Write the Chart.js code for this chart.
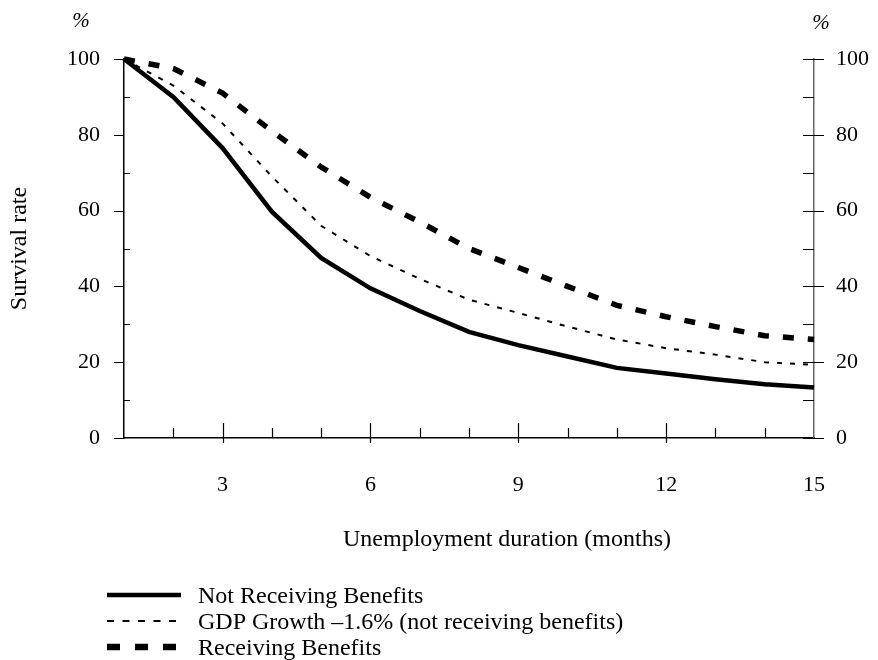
<!DOCTYPE html>
<html>
<head>
<meta charset="utf-8">
<script src="https://cdn.jsdelivr.net/npm/chart.js@4.4.1/dist/chart.umd.min.js"></script>
<style>
  html, body { margin: 0; padding: 0; background: #fff; }
  #wrap { width: 878px; height: 660px; }
</style>
</head>
<body>
<div id="wrap"><canvas id="survChart" width="878" height="660"></canvas></div>
<script>
  // data
  const months = [1, 2, 3, 4, 5, 6, 7, 8, 9, 10, 11, 12, 13, 14, 15];
  const notReceiving = [100, 90, 76.5, 59.7, 47.5, 39.5, 33.5, 28, 24.5, 21.5, 18.5, 17, 15.5, 14.2, 13.3];
  const gdpDrop = [100, 93, 83, 69, 56, 48, 42, 36.5, 33, 29.4, 26, 23.7, 22, 20, 19.3];
  const receiving = [100, 97.5, 91, 81, 71.5, 63.5, 57, 50, 45, 40, 35, 32, 29.4, 27, 26];
  const seriesNames = ['Not Receiving Benefits', 'GDP Growth \u20131.6% (not receiving benefits)', 'Receiving Benefits'];
  const xTickLabels = [3, 6, 9, 12, 15];
  const yTickLabels = [0, 20, 40, 60, 80, 100];

  const FONT = "'Liberation Serif', 'DejaVu Serif', serif";

  function pts(vals) {
    return vals.map((v, i) => ({ x: months[i], y: v }));
  }

  const data = {
    datasets: [
      { label: seriesNames[0], data: pts(notReceiving), borderColor: '#000', borderWidth: 4.5, borderDash: [] },
      { label: seriesNames[1], data: pts(gdpDrop), borderColor: '#000', borderWidth: 2, borderDash: [5, 8] },
      { label: seriesNames[2], data: pts(receiving), borderColor: '#000', borderWidth: 5.5, borderDash: [11, 14] }
    ]
  };
  data.datasets.forEach(d => {
    d.pointRadius = 0;
    d.tension = 0;
    d.fill = false;
    d.clip = false;
    d.borderCapStyle = 'butt';
  });

  // tick marks, titles and legend
  const extras = {
    id: 'extras',
    afterDraw(chart) {
      const ctx = chart.ctx;
      const xs = chart.scales.x, ys = chart.scales.y;
      const area = chart.chartArea;
      ctx.save();
      ctx.strokeStyle = '#000';
      ctx.lineWidth = 1.2;
      ctx.beginPath();
      for (let m = 2; m <= 14; m++) {
        const px = Math.round(xs.getPixelForValue(m)) + 0.5;
        if (m % 3 === 0) {
          ctx.moveTo(px, area.bottom - 15); ctx.lineTo(px, area.bottom + 5);
        } else {
          ctx.moveTo(px, area.bottom - 10); ctx.lineTo(px, area.bottom);
        }
      }
      for (let v = 0; v <= 100; v += 10) {
        const py = Math.round(ys.getPixelForValue(v)) + 0.5;
        if (v % 20 === 0) {
          ctx.moveTo(area.left - 10, py); ctx.lineTo(area.left, py);
          ctx.moveTo(area.right - 11, py); ctx.lineTo(area.right + 10, py);
        } else {
          ctx.moveTo(area.left, py); ctx.lineTo(area.left + 6, py);
          ctx.moveTo(area.right - 11, py); ctx.lineTo(area.right, py);
        }
      }
      ctx.stroke();

      ctx.fillStyle = '#000';
      ctx.font = 'italic 21px ' + FONT;
      ctx.textAlign = 'center';
      ctx.textBaseline = 'middle';
      ctx.fillText('%', 81, 21);
      ctx.fillText('%', 821, 23);

      ctx.font = '24px ' + FONT;
      ctx.fillText('Unemployment duration (months)', 507, 540);

      ctx.save();
      ctx.translate(20, (area.top + area.bottom) / 2);
      ctx.rotate(-Math.PI / 2);
      ctx.fillText('Survival rate', 0, 0);
      ctx.restore();

      // legend
      const rows = [597, 623, 649];
      chart.data.datasets.forEach((ds, i) => {
        ctx.beginPath();
        ctx.lineWidth = i === 2 ? 6.5 : (i === 1 ? 2 : 4.5);
        ctx.setLineDash(i === 1 ? [7, 8.5] : (i === 2 ? [13, 15] : []));
        ctx.moveTo(107, rows[i] - 2);
        ctx.lineTo(181, rows[i] - 2);
        ctx.stroke();
        ctx.setLineDash([]);
        ctx.textAlign = 'left';
        ctx.fillText(ds.label, 198, rows[i]);
      });
      ctx.restore();
    }
  };

  const config = {
    type: 'line',
    data: data,
    options: {
      responsive: false,
      animation: false,
      layout: { padding: { top: 59, left: 0, right: 0, bottom: 0 } },
      plugins: { legend: { display: false }, tooltip: { enabled: false } },
      scales: {
        x: {
          type: 'linear', min: 1, max: 15,
          grid: { display: false, drawTicks: false },
          border: { display: true, color: '#000', width: 1.5 },
          afterBuildTicks: s => { s.ticks = xTickLabels.map(v => ({ value: v })); },
          afterFit: s => { s.height = 222; },
          ticks: { color: '#000', font: { family: FONT, size: 22 }, padding: 34, maxRotation: 0 }
        },
        y: {
          position: 'left', min: 0, max: 100,
          grid: { display: false, drawTicks: false },
          border: { display: true, color: '#000', width: 1.5 },
          afterBuildTicks: s => { s.ticks = yTickLabels.map(v => ({ value: v })); },
          afterFit: s => { s.width = 124; },
          ticks: { color: '#000', font: { family: FONT, size: 22 }, padding: 24 }
        },
        y2: {
          position: 'right', min: 0, max: 100,
          grid: { display: false, drawTicks: false },
          border: { display: true, color: '#666', width: 1.5 },
          afterBuildTicks: s => { s.ticks = yTickLabels.map(v => ({ value: v })); },
          afterFit: s => { s.width = 64; },
          ticks: { color: '#000', font: { family: FONT, size: 22 }, padding: 22 }
        }
      }
    },
    plugins: [extras]
  };

  const myChart = new Chart(document.getElementById('survChart'), config);
</script>
</body>
</html>
